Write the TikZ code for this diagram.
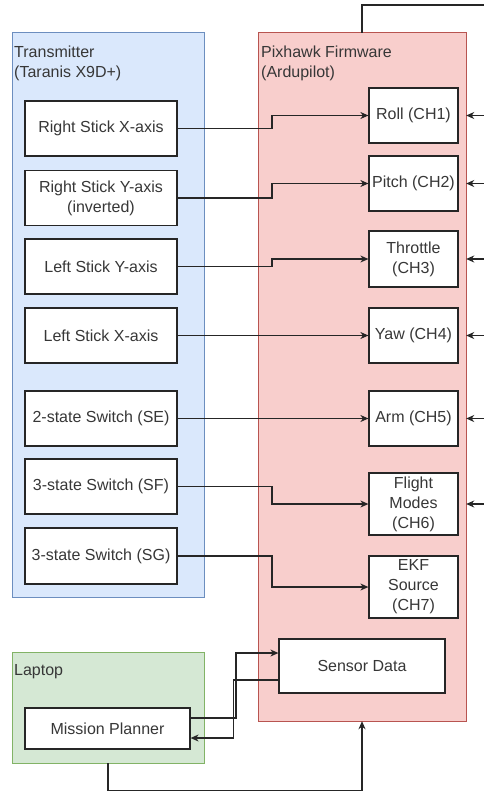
\documentclass[tikz,border=0pt]{standalone}
\usepackage{fontspec}
\setmainfont{Liberation Sans}
\usetikzlibrary{arrows.meta}
\definecolor{txc}{RGB}{55,55,55}
\definecolor{bluef}{HTML}{DAE8FC}\definecolor{blued}{HTML}{6C8EBF}
\definecolor{redf}{HTML}{F8CECC}\definecolor{redd}{HTML}{B85450}
\definecolor{greenf}{HTML}{D5E8D4}\definecolor{greend}{HTML}{82B366}
\tikzset{
  every node/.style={font=\fontsize{16}{20}\selectfont, text=txc},
  group/.style={draw, line width=1pt, inner sep=0pt},
  grouplabel/.style={anchor=north west, inner sep=0pt, align=left},
  srcbox/.style={draw=black!85, line width=1.2pt, fill=white, minimum width=152pt, minimum height=55pt, inner sep=0pt, align=center},
  chbox/.style={draw=black!85, line width=1.2pt, fill=white, minimum width=89pt, minimum height=55pt, inner sep=0pt, align=center},
  wire/.style={draw=black!85, line width=1.2pt},
  arr/.style={wire, -{Stealth[length=8pt,width=7pt,inset=2.5pt]}},
}
\begin{document}
\begin{tikzpicture}[x=1pt,y=-1pt]
\useasboundingbox (0,0) rectangle (484,792);
% containers
\path[group, fill=bluef, draw=blued] (12,33) rectangle (204,597);
\node (tx) [inner sep=0pt, minimum width=192pt, minimum height=564pt] at (108,315) {};
\path[group, fill=redf, draw=redd] (258,33) rectangle (466,721);
\node (pix) [inner sep=0pt, minimum width=208pt, minimum height=688pt] at (362,377) {};
\path[group, fill=greenf, draw=greend] (12,652) rectangle (204,763);
\node (lap) [inner sep=0pt, minimum width=192pt, minimum height=111pt] at (108,707.5) {};
\node[grouplabel] (txl) at (14,45.5) {Transmitter\\(Taranis X9D+)};
\node[grouplabel] (pixl) at (261,45.5) {Pixhawk Firmware\\(Ardupilot)};
\node[grouplabel] (lapl) at (14,664.5) {Laptop};
% transmitter inputs
\node[srcbox] (rsx) at (101,128.5) {Right Stick X-axis};
\node[srcbox] (rsy) at (101,198) {Right Stick Y-axis\\(inverted)};
\node[srcbox] (lsy) at (101,266.5) {Left Stick Y-axis};
\node[srcbox] (lsx) at (101,335.5) {Left Stick X-axis};
\node[srcbox] (se) at (101,418.5) {2-state Switch (SE)};
\node[srcbox] (sf) at (101,486.5) {3-state Switch (SF)};
\node[srcbox, minimum height=56pt] (sg) at (101,556) {3-state Switch (SG)};
% channels
\node[chbox] (roll) at (413.5,115.5) {Roll (CH1)};
\node[chbox] (pitch) at (413.5,183.5) {Pitch (CH2)};
\node[chbox, minimum height=56pt] (thr) at (413.5,259) {Throttle\\(CH3)};
\node[chbox] (yaw) at (413.5,335.5) {Yaw (CH4)};
\node[chbox] (arm) at (413.5,418.5) {Arm (CH5)};
\node[chbox, minimum height=62pt] (fm) at (413.5,504) {Flight\\Modes\\(CH6)};
\node[chbox, minimum height=62pt] (ekf) at (413.5,587) {EKF\\Source\\(CH7)};
\node[chbox, minimum width=166pt, minimum height=54pt] (sens) at (362,666) {Sensor Data};
\node[srcbox, minimum width=165pt, minimum height=41pt] (mp) at (107.5,728.5) {Mission Planner};
% helper coordinates
\coordinate (jx) at (272,0);
\coordinate (ja) at (236,0);
\coordinate (jb) at (233.5,0);
% transmitter -> channels
\draw[arr] (rsx.east) -- (rsx.east -| jx) |- (roll.west);
\draw[arr] (rsy.east) -- (rsy.east -| jx) |- (pitch.west);
\draw[arr] (lsy.east) -- (lsy.east -| jx) |- (thr.west);
\draw[arr] (lsx.east) -- (yaw.west);
\draw[arr] (se.east) -- (arm.west);
\draw[arr] (sf.east) -- (sf.east -| jx) |- (fm.west);
\draw[arr] (sg.east) -- (sg.east -| jx) |- (ekf.west);
% incoming from right
\coordinate (r1) at (484,115.5);
\coordinate (r2) at (484,183.5);
\coordinate (r3) at (484,259);
\coordinate (r4) at (484,335.5);
\coordinate (r5) at (484,418.5);
\coordinate (r6) at (484,504);
\draw[arr] (r1) -- (r1 -| pix.east);
\draw[arr] (r2) -- (r2 -| pix.east);
\draw[arr] (r3) -- (r3 -| pix.east);
\draw[arr] (r4) -- (r4 -| pix.east);
\draw[arr] (r5) -- (r5 -| pix.east);
\draw[arr] (r6) -- (r6 -| pix.east);
% top line
\coordinate (topend) at (484,5);
\draw[wire] (pix.north) |- (topend);
% mission planner <-> sensor data
\draw[arr] ([yshift=10.5pt]mp.east) -- ([yshift=10.5pt]mp.east -| ja) |- ([yshift=13pt]sens.west);
\draw[arr] ([yshift=-14pt]sens.west) -- ([yshift=-14pt]sens.west -| jb) |- ([yshift=-9.5pt]mp.east);
% laptop -> pixhawk
\draw[arr] (lap.south) -- ++(0,27) -| (pix.south);
\end{tikzpicture}
\end{document}
